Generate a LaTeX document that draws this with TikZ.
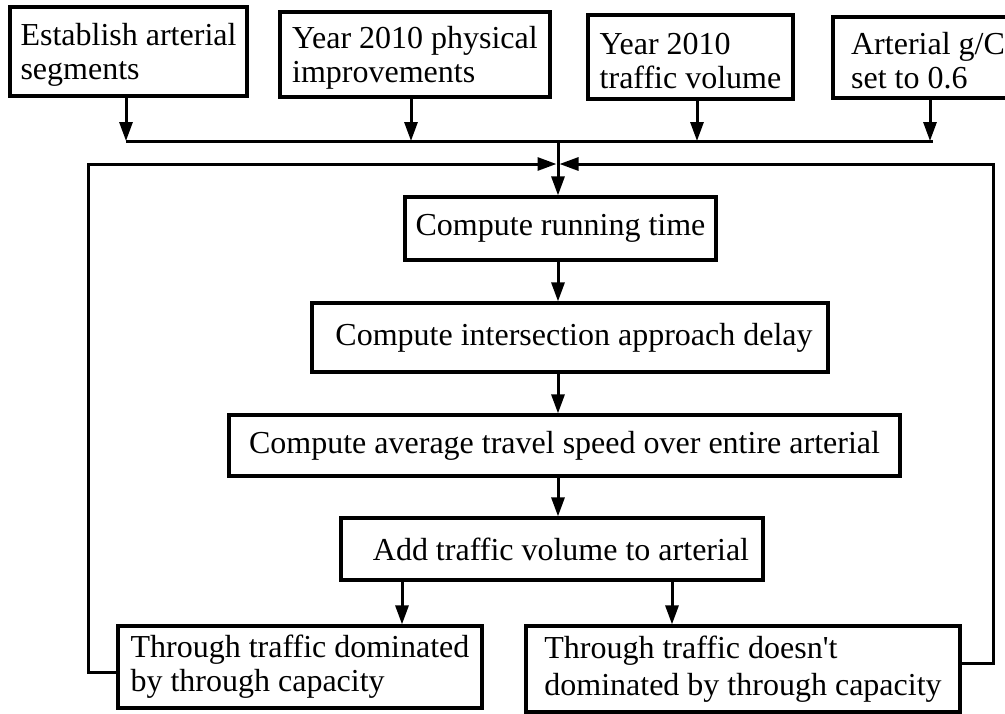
\documentclass[tikz,border=0pt]{standalone}
\usepackage{fontspec}
\setmainfont{Liberation Serif}
\usetikzlibrary{arrows.meta}
% strut that pushes the first text line of a box a little lower
\newcommand{\firstline}{\rule{0pt}{29pt}}
\begin{document}
\begin{tikzpicture}[x=1pt,y=-1pt,
  box/.style={draw, rectangle, line width=3.2pt, inner sep=0pt,
    font=\fontsize{32}{34}\selectfont},
  lbox/.style={box, align=left},
  flow/.style={line width=3pt, -{Triangle[length=19pt,width=13pt]}},
  link/.style={line width=3pt}]
\useasboundingbox (0,0) rectangle (1005,713);

% input boxes
\node[lbox, minimum width=237pt, minimum height=89pt] (b1) at (128.5,51.5)
  {\firstline Establish arterial\\segments};
\node[lbox, minimum width=270pt, minimum height=85pt] (b2) at (415,54.5)
  {\firstline Year 2010 physical\\improvements};
\node[lbox, minimum width=205pt, minimum height=84pt] (b3) at (690.5,57)
  {\firstline Year 2010\\traffic volume};
\node[lbox, minimum width=190pt, minimum height=81pt] (b4) at (928,57.5)
  {\firstline Arterial g/C\\set to 0.6};

% main chain
\node[box, minimum width=311pt, minimum height=63pt] (b5) at (560.5,228.5)
  {Compute running time};
\node[box, minimum width=516pt, minimum height=69pt] (b6) at (570,337.5)
  {\hspace*{8pt}Compute intersection approach delay};
\node[box, minimum width=671pt, minimum height=61pt] (b7) at (564.5,445.5)
  {Compute average travel speed over entire arterial};
\node[box, minimum width=422pt, minimum height=62pt] (b8) at (552,549)
  {\hspace*{18pt}Add traffic volume to arterial};

% outcome boxes
\node[lbox, minimum width=364pt, minimum height=82pt] (b9) at (300,667)
  {Through traffic dominated\\by through capacity};
\node[lbox, minimum width=434pt, minimum height=86pt,
  font=\fontsize{32}{37}\selectfont] (b10) at (743,669)
  {Through traffic doesn\textquotesingle t\\dominated by through capacity};

% junction points
\coordinate (j1) at (126,141);
\coordinate (j2) at (411,141);
\coordinate (j3) at (697,141);
\coordinate (j4) at (930,141);
\coordinate (top) at (558,141);
\coordinate (mrg) at (558,164);
\coordinate (lc) at (88,672);
\coordinate (rc) at (993,663);
\coordinate (a9) at (402,600);
\coordinate (a10) at (672,600);

% inputs onto the collector line
\draw[flow] (b1.south -| j1) -- (j1);
\draw[flow] (b2.south -| j2) -- (j2);
\draw[flow] (b3.south -| j3) -- (j3);
\draw[flow] (b4.south -| j4) -- (j4);
\draw[link] (j1) -- ([xshift=3pt]j4);

% feedback loops
\draw[flow, shorten >=1.5pt] (b9.west |- lc) -- (lc) -- (lc |- mrg) -- (mrg);
\draw[flow, shorten >=1.5pt] (b10.east |- rc) -- (rc) -- (rc |- mrg) -- (mrg);

% main flow
\draw[flow] (top) -- (top |- b5.north);
\draw[flow] (b5.south -| top) -- (b6.north -| top);
\draw[flow] (b6.south -| top) -- (b7.north -| top);
\draw[flow] (b7.south -| top) -- (b8.north -| top);
\draw[flow] (b8.south -| a9) -- (b9.north -| a9);
\draw[flow] (b8.south -| a10) -- (b10.north -| a10);
\end{tikzpicture}
\end{document}
